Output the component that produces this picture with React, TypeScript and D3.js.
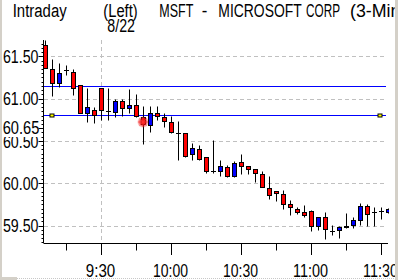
import React from "react";
import * as d3 from "d3";

const times = ["9:06","9:09","9:12","9:15","9:18","9:21","9:24","9:27","9:30","9:33","9:36","9:39","9:42","9:45","9:48","9:51","9:54","9:57",
  "10:00","10:03","10:06","10:09","10:12","10:15","10:18","10:21","10:24","10:27","10:30","10:33","10:36","10:39","10:42","10:45","10:48","10:51","10:54","10:57",
  "11:00","11:03","11:06","11:09","11:12","11:15","11:18","11:21","11:24","11:27","11:30","11:33"];
const open = [61.63,61.35,61.18,61.34,61.31,61.16,60.83,60.87,61.13,60.85,60.84,60.97,60.89,60.92,60.78,60.69,60.83,60.78,60.72,60.59,60.59,60.35,60.41,60.31,60.15,60.14,60.19,60.08,60.25,60.20,60.17,60.11,59.94,59.91,59.87,59.75,59.70,59.66,59.67,59.49,59.60,59.44,59.45,59.48,59.51,59.56,59.73,59.66,59.67,59.66];
const close = [61.36,61.18,61.30,61.34,61.12,60.83,60.90,60.81,60.87,60.85,60.97,60.89,60.92,60.80,60.70,60.83,60.80,60.74,60.60,60.59,60.32,60.42,60.29,60.15,60.15,60.20,60.09,60.24,60.20,60.17,60.12,59.96,59.86,59.88,59.75,59.72,59.66,59.62,59.49,59.60,59.46,59.44,59.48,59.50,59.57,59.73,59.64,59.66,59.67,59.70];
const high = [61.69,61.47,61.42,61.40,61.35,61.16,61.12,60.90,61.13,61.13,60.99,61.00,61.11,61.05,60.91,60.91,60.91,60.83,60.79,60.73,60.59,60.48,60.45,60.31,60.51,60.27,60.21,60.26,60.35,60.20,60.17,60.14,60.09,59.91,59.92,59.80,59.72,59.74,59.68,59.60,59.66,59.51,59.50,59.65,59.60,59.77,59.75,59.72,59.72,59.71];
const low = [61.36,61.03,61.14,61.28,61.04,60.83,60.72,60.71,60.75,60.75,60.78,60.79,60.83,60.78,60.46,60.60,60.75,60.66,60.59,60.27,60.31,60.28,60.27,60.12,60.12,60.09,60.07,60.07,60.11,60.11,60.01,59.96,59.81,59.79,59.70,59.62,59.64,59.60,59.44,59.45,59.34,59.39,59.35,59.47,59.47,59.51,59.50,59.49,59.58,59.65];

const yTicks = [59.5, 60.0, 60.5, 61.0, 61.5];
const yTickLabels = ["59.50", "60.00", "60.50", "61.00", "61.50"];
const markPrice = 60.65;
const markLabel = "60.65";
const refLines = [61.15, 60.81];
const majorXTicks = ["9:30", "10:00", "10:30", "11:00", "11:30"];
const minorXTicks = ["9:15", "9:45", "10:15", "10:45", "11:15"];
const sessionStart = "9:30";

const toMin = (s: string) => {
  const [h, m] = s.split(":").map(Number);
  return h * 60 + m;
};

const FONT = "'Liberation Sans', Arial, sans-serif";

export default function App() {
  const left = 43.5, right = 388, top = 40, bottom = 243;
  const x = d3.scaleLinear().domain([570 - 57.5 * 3 / 7, 570 + 287 * 3 / 7]).range([left, right]);
  const y = d3.scaleLinear().domain([59.5, 61.5]).range([225.5, 56.3]);
  const px = (v: number) => Math.round(v) + 0.5;

  const minorY = d3.range(Math.ceil(y.invert(bottom) / 0.05), Math.floor(y.invert(top) / 0.05) + 1).map((k) => k * 0.05);

  const txt = (s: string, xx: number, yy: number, tl: number, anchor: string = "start", key?: string) => (
    <text key={key ?? s + xx} x={xx} y={yy} textLength={tl} lengthAdjust="spacingAndGlyphs" textAnchor={anchor}
      fontFamily={FONT} fontSize={18} fill="#000">{s}</text>
  );

  return (
    <svg width={398} height={280} style={{ position: "absolute", left: 0, top: 0, background: "#fff" }}>
      <defs>
        <clipPath id="plot"><rect x={44} y={top} width={right - 44 + 1} height={bottom - top} /></clipPath>
        <radialGradient id="spark">
          <stop offset="0" stopColor="#ff4040" stopOpacity={1} />
          <stop offset="0.45" stopColor="#e01010" stopOpacity={0.8} />
          <stop offset="1" stopColor="#ff0000" stopOpacity={0} />
        </radialGradient>
      </defs>
      <rect x={0} y={0} width={398} height={280} fill="#fff" />

      {/* grid */}
      {yTicks.map((t) => (
        <line key={"g" + t} x1={44} x2={387} y1={px(y(t))} y2={px(y(t))} stroke="#c0c0c0" strokeDasharray="4,3" />
      ))}
      <line x1={px(x(toMin(sessionStart)))} x2={px(x(toMin(sessionStart)))} y1={top} y2={bottom} stroke="#c0c0c0" strokeDasharray="4,3" />

      {/* reference lines */}
      {refLines.map((v) => (
        <line key={"r" + v} x1={44} x2={386} y1={px(y(v))} y2={px(y(v))} stroke="#0000ff" />
      ))}
      {[51.5, 379.5].map((mx) => (
        <rect key={"m" + mx} x={mx - 1.5} y={px(y(refLines[1])) - 1.5} width={4} height={3} fill="#ffff00" stroke="#000" />
      ))}

      {/* candles */}
      <g clipPath="url(#plot)">
        {times.map((t, i) => {
          const cx = Math.round(x(toMin(t)));
          const o = open[i], c = close[i];
          const yo = px(y(o)), yc = px(y(c));
          const yh = px(y(high[i])), yl = px(y(low[i]));
          const doji = o === c;
          const fill = c > o ? "#0000ff" : "#ff0000";
          return (
            <g key={t}>
              <line x1={cx + 0.5} x2={cx + 0.5} y1={yh} y2={yl} stroke="#000" />
              {doji ? (
                <line x1={cx - 2} x2={cx + 3} y1={yo} y2={yo} stroke="#000" />
              ) : (
                <rect x={cx - 1.5} y={Math.min(yo, yc)} width={4} height={Math.max(1, Math.abs(yo - yc))} fill={fill} stroke="#000" />
              )}
            </g>
          );
        })}
      </g>

      {/* sparkle cursor */}
      <g>
        <circle cx={143} cy={122} r={6} fill="url(#spark)" />
        {[0, 45, 90, 135].map((a) => (
          <line key={"s" + a} x1={143 - 5 * Math.cos((a * Math.PI) / 180)} y1={122 - 5 * Math.sin((a * Math.PI) / 180)}
            x2={143 + 5 * Math.cos((a * Math.PI) / 180)} y2={122 + 5 * Math.sin((a * Math.PI) / 180)} stroke="#ff3030" strokeOpacity={0.6} />
        ))}
      </g>

      {/* y axis */}
      <line x1={left} x2={left} y1={top} y2={bottom} stroke="#000" />
      {minorY.map((v) => (
        <line key={"my" + v.toFixed(2)} x1={left - 2} x2={left} y1={px(y(v))} y2={px(y(v))} stroke="#000" />
      ))}
      {yTicks.map((t) => (
        <line key={"ty" + t} x1={left - 5} x2={left} y1={px(y(t))} y2={px(y(t))} stroke="#000" />
      ))}
      {yTicks.map((t, i) => txt(yTickLabels[i], 38.5, y(t) + 6.8, 35.6, "end", "yl" + t))}
      <rect x={2} y={119} width={37} height={18} fill="#fff" />
      <line x1={left - 5} x2={left} y1={px(y(markPrice))} y2={px(y(markPrice))} stroke="#000" />
      {txt(markLabel, 39.3, y(markPrice) + 5.3, 36.6, "end", "mk")}

      {/* x axis */}
      <line x1={left} x2={right} y1={bottom + 0.5} y2={bottom + 0.5} stroke="#000" />
      {minorXTicks.map((t) => (
        <line key={"mx" + t} x1={px(x(toMin(t)))} x2={px(x(toMin(t)))} y1={bottom} y2={bottom + 7.5} stroke="#000" />
      ))}
      {majorXTicks.map((t) => (
        <line key={"tx" + t} x1={px(x(toMin(t)))} x2={px(x(toMin(t)))} y1={bottom} y2={bottom + 12} stroke="#000" />
      ))}
      {majorXTicks.map((t) => txt(t, x(toMin(t)) - 0.5, 276.7, t.length === 4 ? 29.4 : 35, "middle", "xl" + t))}

      {/* title */}
      {txt("Intraday", 12.7, 16.7, 54)}
      {txt("(Left)", 103.3, 16.7, 34.4)}
      {txt("8/22", 107.3, 32.3, 27.7)}
      {txt("MSFT", 159.3, 16.7, 34)}
      {txt("-", 201.7, 16.7, 5.6)}
      {txt("MICROSOFT", 218.3, 16.7, 83.4)}
      {txt("CORP", 306, 16.7, 34)}
      {txt("(3-Minute)", 350, 16.7, 81)}

      {/* window frame */}
      <rect x={0} y={0} width={2} height={280} fill="#d4d0c8" />
      <rect x={395} y={0} width={3} height={280} fill="#d4d0c8" />
      <line x1={17} x2={395} y1={278.5} y2={278.5} stroke="#c8c8c8" strokeDasharray="1,1" />
      <rect x={0} y={277} width={17} height={3} fill="#d4d0c8" />
    </svg>
  );
}
